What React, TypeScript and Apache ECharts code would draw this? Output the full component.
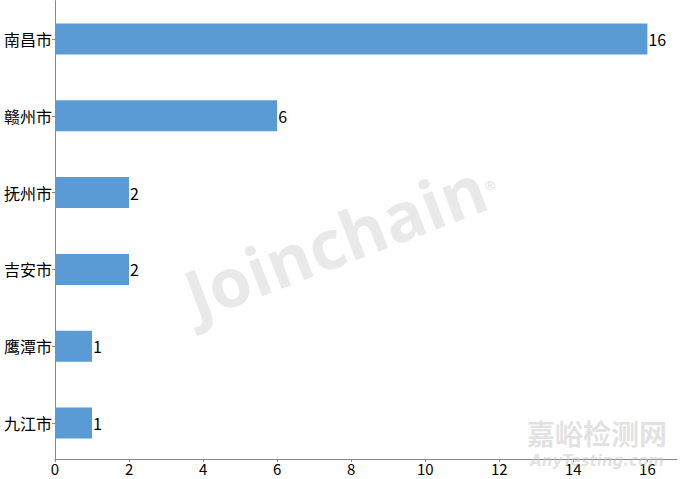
import React, { useEffect, useRef } from "react";
import * as echarts from "echarts";

const categories = ["南昌市", "赣州市", "抚州市", "吉安市", "鹰潭市", "九江市"];
const values = [16, 6, 2, 2, 1, 1];
const xTicks = [0, 2, 4, 6, 8, 10, 12, 14, 16];

export default function App() {
  const ref = useRef<HTMLDivElement>(null);
  useEffect(() => {
    if (!ref.current) return;
    const chart = echarts.init(ref.current, null, { renderer: "svg" });
    const font = "'Noto Sans CJK SC', 'Noto Sans', sans-serif";
    chart.setOption({
      animation: false,
      grid: { left: 55, right: 3, top: 0.6, bottom: 17.6, containLabel: false },
      xAxis: {
        type: "value",
        min: 0,
        max: 16.8,
        interval: 2,
        offset: -2.4,
        splitLine: { show: false },
        axisLine: { show: true, lineStyle: { color: "#888888", width: 1 } },
        axisTick: { show: true, length: 3, lineStyle: { color: "#888888" } },
        axisLabel: {
          showMaxLabel: false,
          color: "#000000",
          fontSize: 15,
          fontFamily: font,
          margin: 2,
          formatter: (v: number) => (xTicks.includes(v) ? String(v) : ""),
        },
      },
      yAxis: {
        type: "category",
        data: categories,
        inverse: true,
        axisLine: { show: true, lineStyle: { color: "#888888", width: 1 } },
        axisTick: { show: true, alignWithLabel: true, length: 3, lineStyle: { color: "#888888" } },
        axisLabel: { color: "#000000", fontSize: 16, fontFamily: font, margin: 3 },
      },
      series: [
        {
          type: "bar",
          data: values,
          barWidth: 31,
          itemStyle: { color: "#5B9BD5" },
          label: {
            show: true,
            position: "right",
            distance: 1,
            color: "#000000",
            fontSize: 16,
            fontFamily: font,
          },
        },
      ],
      graphic: [
        {
          type: "text",
          x: 335,
          y: 240,
          rotation: (21 * Math.PI) / 180,
          style: {
            text: "Joinchain",
            fontSize: 68,
            fontWeight: "bold",
            fontFamily: "'Open Sans', 'DejaVu Sans', sans-serif",
            fill: "rgba(200,200,200,0.4)",
            align: "center",
            verticalAlign: "middle",
          },
          z: 100,
        },
        {
          type: "text",
          x: 490,
          y: 185,
          style: {
            text: "®",
            fontSize: 13,
            fontFamily: "'DejaVu Sans', sans-serif",
            fill: "rgba(200,200,200,0.6)",
            align: "center",
            verticalAlign: "middle",
          },
          z: 100,
        },
        {
          type: "text",
          x: 597,
          y: 433,
          style: {
            text: "嘉峪检测网",
            fontSize: 28,
            fontWeight: "bold",
            fontFamily: "'Noto Sans CJK SC', sans-serif",
            fill: "rgba(190,190,190,0.45)",
            align: "center",
            verticalAlign: "middle",
          },
          z: 100,
        },
        {
          type: "text",
          x: 597,
          y: 461,
          style: {
            text: "AnyTesting.com",
            fontSize: 15,
            fontStyle: "italic",
            fontWeight: "bold",
            fontFamily: "'DejaVu Sans', sans-serif",
            fill: "rgba(190,190,190,0.45)",
            align: "center",
            verticalAlign: "middle",
          },
          z: 100,
        },
      ],
    });
    return () => chart.dispose();
  }, []);
  return (
    <div
      ref={ref}
      style={{ position: "fixed", left: 0, top: 0, width: 680, height: 479, background: "#ffffff" }}
    />
  );
}
